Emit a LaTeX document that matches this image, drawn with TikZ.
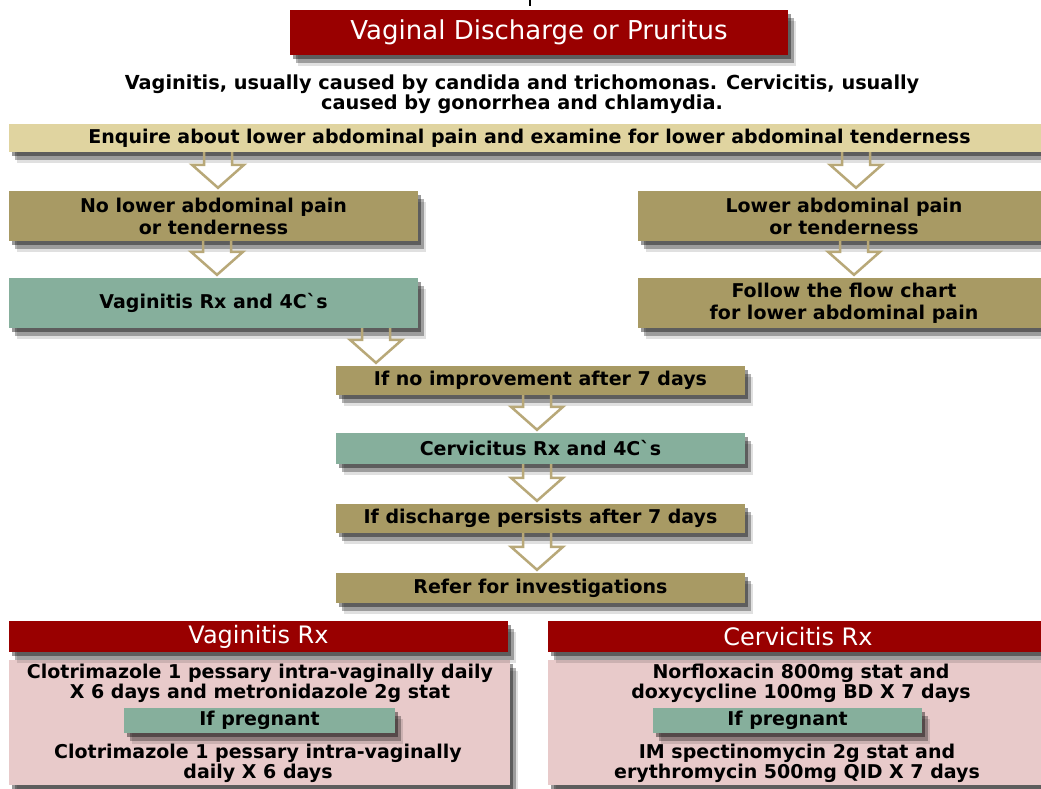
\documentclass[tikz,border=0pt]{standalone}
\usepackage{fontspec}
\setmainfont{DejaVu Sans}
\usetikzlibrary{calc,shadows}
\definecolor{hdred}{HTML}{990000}
\definecolor{lighttan}{HTML}{E0D4A0}
\definecolor{olive}{HTML}{A89A64}
\definecolor{tealbox}{HTML}{86AF9C}
\definecolor{pinkbox}{HTML}{E8CACA}
\definecolor{arrowtan}{HTML}{B8A878}
\newcommand\hollowarrow[3]{%
  \draw[harrow] let \p1=(#1.south), \p2=(#2.north) in
   (#3pt-14pt,\y1) -- (#3pt-14pt,\y2+26pt) -- (#3pt-26pt,\y2+26pt) -- (#3pt,\y2+3pt)
   -- (#3pt+26pt,\y2+26pt) -- (#3pt+14pt,\y2+26pt) -- (#3pt+14pt,\y1);}
\tikzset{
  softshadow/.style={
    drop shadow={shadow xshift=3pt,shadow yshift=-4pt,opacity=.4,fill=black},
    drop shadow={shadow xshift=6pt,shadow yshift=-8pt,opacity=.3,fill=black},
    drop shadow={shadow xshift=8pt,shadow yshift=-11pt,opacity=.12,fill=black}},
  box/.style={rectangle,inner sep=0pt,align=center,softshadow,
    font=\bfseries\fontsize{19}{22}\selectfont},
  redbox/.style={box,fill=hdred,text=white,font=\fontsize{24}{26}\selectfont},
  tanbox/.style={box,fill=lighttan},
  olivebox/.style={box,fill=olive},
  tealb/.style={box,fill=tealbox},
  pinkb/.style={rectangle,inner sep=0pt,fill=pinkbox,softshadow},
  plain/.style={align=center,inner sep=0pt,font=\bfseries\fontsize{19}{20}\selectfont},
  harrow/.style={draw=arrowtan,line width=2.5pt,line join=miter},
}
\begin{document}
\begin{tikzpicture}[x=1pt,y=-1pt]
\useasboundingbox (0,0) rectangle (1041,788);
\fill[white] (0,0) rectangle (1041,788);
\draw[line width=1.2pt] (530,0) -- (530,6);
% title
\node[redbox,minimum width=498pt,minimum height=45pt,font=\fontsize{26}{28}\selectfont] (title) at (539,32.5) {Vaginal Discharge or Pruritus};
\node[plain,font=\bfseries\fontsize{19.3}{20}\selectfont] (intro) at (522,94) {Vaginitis, usually caused by candida and trichomonas. Cervicitis, usually\\caused by gonorrhea and chlamydia.};
% main flow
\node[tanbox,minimum width=1041pt,minimum height=28pt] (enq) at (529.5,138) {Enquire about lower abdominal pain and examine for lower abdominal tenderness};
\node[olivebox,minimum width=409pt,minimum height=50pt] (nolow) at (213.5,216) {No lower abdominal pain\\or tenderness};
\node[tealb,minimum width=409pt,minimum height=50pt] (vagrx) at (213.5,303) {Vaginitis Rx and 4C\textasciigrave s};
\node[olivebox,minimum width=412pt,minimum height=50pt] (low) at (844,216) {Lower abdominal pain\\or tenderness};
\node[olivebox,minimum width=412pt,minimum height=50pt] (follow) at (844,303) {Follow the flow chart\\for lower abdominal pain};
\node[olivebox,minimum width=409pt,minimum height=29pt] (noimp) at (540.5,380.5) {If no improvement after 7 days};
\node[tealb,minimum width=409pt,minimum height=31pt] (cervrx) at (540.5,448.5) {Cervicitus Rx and 4C\textasciigrave s};
\node[olivebox,minimum width=409pt,minimum height=29pt] (persist) at (540.5,518.5) {If discharge persists after 7 days};
\node[olivebox,minimum width=409pt,minimum height=30pt] (refer) at (540.5,588) {Refer for investigations};
% arrows
\hollowarrow{enq}{nolow}{218}
\hollowarrow{enq}{low}{856}
\hollowarrow{nolow}{vagrx}{217}
\hollowarrow{low}{follow}{854}
\hollowarrow{vagrx}{noimp}{376}
\hollowarrow{noimp}{cervrx}{537}
\hollowarrow{cervrx}{persist}{537}
\hollowarrow{persist}{refer}{537}
% treatments
\node[pinkb,minimum width=501pt,minimum height=125pt] (vbody) at (259.5,722.5) {};
\node[redbox,minimum width=499pt,minimum height=31pt] (vhead) at (258.5,636.5) {Vaginitis Rx};
\node[plain] (vt1) at (260,683) {Clotrimazole 1 pessary intra-vaginally daily\\X 6 days and metronidazole 2g stat};
\node[tealb,minimum width=271pt,minimum height=25pt] (vpreg) at (259.5,720.5) {If pregnant};
\node[plain] (vt2) at (258,763.5) {Clotrimazole 1 pessary intra-vaginally\\daily X 6 days};
\node[pinkb,minimum width=502pt,minimum height=125pt] (cbody) at (799,722.5) {};
\node[redbox,minimum width=500pt,minimum height=31pt] (chead) at (798,636.5) {Cervicitis Rx};
\node[plain] (ct1) at (801,683) {Norfloxacin 800mg stat and\\doxycycline 100mg BD X 7 days};
\node[tealb,minimum width=269pt,minimum height=25pt] (cpreg) at (787.5,720.5) {If pregnant};
\node[plain] (ct2) at (797,763.5) {IM spectinomycin 2g stat and\\erythromycin 500mg QID X 7 days};
\end{tikzpicture}
\end{document}
